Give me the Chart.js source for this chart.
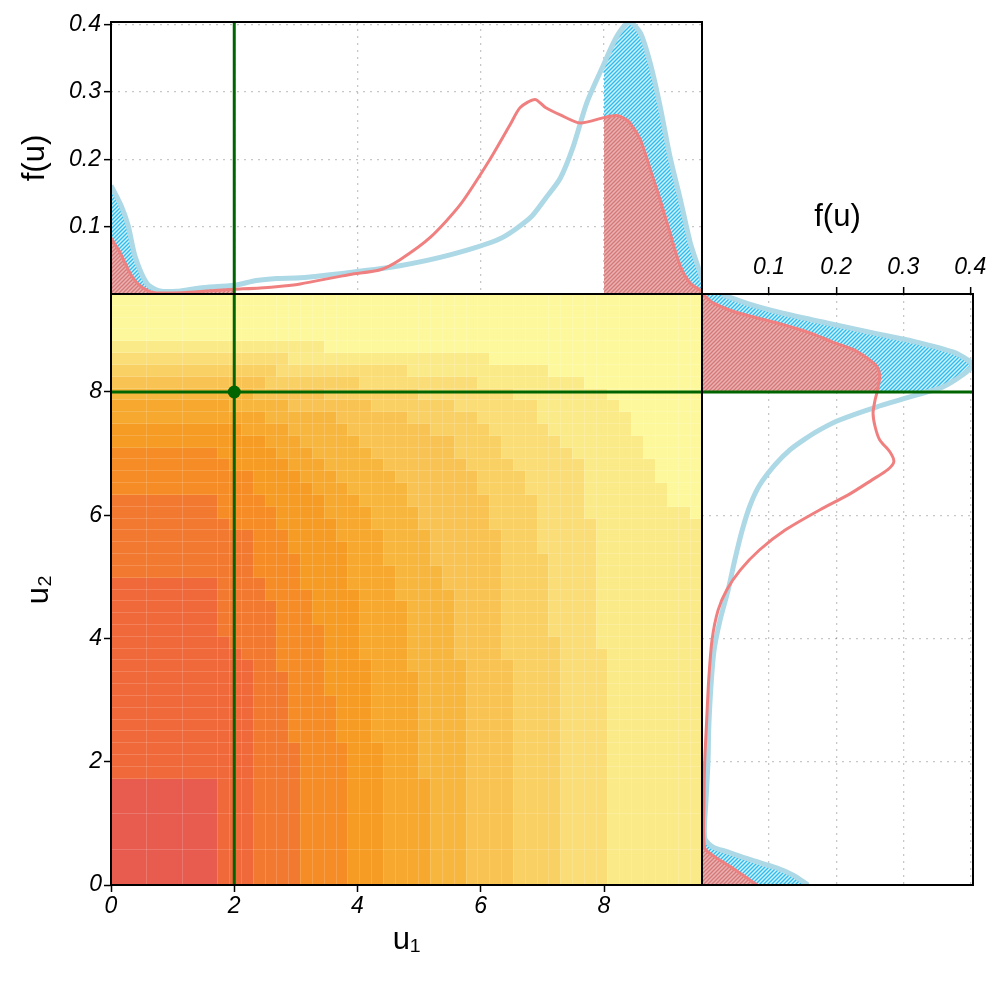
<!DOCTYPE html>
<html><head><meta charset="utf-8">
<script src="https://cdn.jsdelivr.net/npm/chart.js@4"></script>
<style>
html,body{margin:0;padding:0;background:#fff;}
#wrap{position:relative;width:996px;height:996px;}
canvas{position:absolute;left:0;top:0;}
</style></head><body>
<div id="wrap">
<canvas id="cMain" width="996" height="996"></canvas>
<canvas id="cTop" width="996" height="996"></canvas>
<canvas id="cRight" width="996" height="996"></canvas>
</div>
<script>
// ---------------- data ----------------
const axisMax = 9.59;          // u1 / u2 axis range
const densityMax = 0.404;      // f(u) axis range
const mainTicks = [0, 2, 4, 6, 8];
const gridTicksU = [2, 4, 6, 8];
const densityTicks = [0.1, 0.2, 0.3, 0.4];
const lowCut = 2, highCut = 8;       // shaded tails
const markU1 = 2, markU2 = 8;        // green marker

// heatmap: number of grid rows (from bottom) whose level is <= k, per grid column (50 columns)
const top0  = [9,9,9,9,9,9,9,9,9, 0,0,0,0,0,0,0,0,0,0,0,0,0,0,0,0,0,0,0,0,0,0,0,0,0,0,0,0,0,0,0,0,0,0,0,0,0,0,0,0,0];
const top1  = [26,26,26,26,26,26,26,26,26, 21,20,19, 0,0,0,0,0,0,0,0,0,0,0,0,0,0,0,0,0,0,0,0,0,0,0,0,0,0,0,0,0,0,0,0,0,0,0,0,0,0];
const top2  = [33,33,33,33,33,33,33,33,33, 31,30,30,26,24,18,12, 0,0,0,0,0,0,0,0,0,0,0,0,0,0,0,0,0,0,0,0,0,0,0,0,0,0,0,0,0,0,0,0,0,0];
const top3  = [37,37,37,37,37,37,37,37,37, 36,35,35,33,32,30,28,25,22,16,12, 0,0,0,0,0,0,0,0,0,0,0,0,0,0,0,0,0,0,0,0,0,0,0,0,0,0,0,0,0,0];
const top4  = [39,39,39,39,39,39,39,39,39, 39,39,38,38,37,36,35,34,33,31,29,25,19,12, 0,0,0,0,0,0,0,0,0,0,0,0,0,0,0,0,0,0,0,0,0,0,0,0,0,0,0];
const top5  = [41,41,41,41,41,41,41,41,41, 41,40,40,40,39,39,38,37,36,35,34,33,32,30,27,24,18,9, 0,0,0,0,0,0,0,0,0,0,0,0,0,0,0,0,0,0,0,0,0,0,0];
const top6  = [42,42,42,42,42,42,42,42,42,42,42,42, 41,41,41,40,40,40,40,39,38,37,36,35,34,32,30,27,25,19, 0,0,0,0,0,0,0,0,0,0,0,0,0,0,0,0,0,0,0,0];
const top7  = [43,43,43,43,43,43,43,43,43,43,43,43,43, 42,42,42,42,42, 41,41,41,41, 40,40,40, 39,39, 38,38, 36,35,33,30,19, 0,0,0,0,0,0,0,0,0,0,0,0,0,0,0,0];
const top8  = [44,44,44,44,44,44,44,44,44,44,44,44,44,44, 43,43,43,43,43,43,43, 42,42,42,42,42, 41,41,41, 40,40, 39,38,36,35,33,28,21, 0,0,0,0,0,0,0,0,0,0,0,0];
const top9  = [45,45,45,45,45,45,45,45,45,45,45,45,45,45,45, 44,44,44,44,44,44,44,44,44,44, 43,43,43,43,43,43, 42,42,42, 41,41, 39,38,37,36,31,20, 0,0,0,0,0,0,0,0];
const top10 = [46,46,46,46,46,46,46,46,46,46,46,46,46,46,46,46,46,46, 45,45,45,45,45,45,45,45,45,45,45,45,45,45, 44,44,44,44,44, 43,43,43, 42,42, 41,40,38,36,34,32,32,31];
const levelTops = [top0, top1, top2, top3, top4, top5, top6, top7, top8, top9, top10];
const gridCols = 50;
const mergedEdges = [0, 3, 6];   // coarse cells at the low end of both axes

// marginal density of u1 (top panel)
const topBlueU = [0,0.17,0.28,0.39,0.58,0.77,1.07,1.44,2.0,2.36,2.69,3.07,3.88,4.69,5.5,6.31,6.8,7.05,7.29,7.5,7.72,8.0,8.21,8.41,8.59,8.75,8.91,9.07,9.24,9.4,9.56,9.59];
const topBlueF = [0.161,0.130,0.101,0.056,0.016,0.005,0.004,0.009,0.013,0.020,0.023,0.024,0.032,0.042,0.058,0.082,0.113,0.142,0.172,0.219,0.284,0.342,0.383,0.404,0.388,0.343,0.279,0.204,0.140,0.076,0.031,0.02];
const topRedU  = [0,0.15,0.34,0.52,0.71,1.17,1.61,2.0,2.42,2.8,3.07,3.88,4.37,4.69,5.18,5.67,6.15,6.48,6.64,6.88,7.05,7.29,7.61,8.0,8.21,8.4,8.59,8.75,8.91,9.07,9.24,9.4,9.59];
const topRedF  = [0.083,0.061,0.026,0.009,0.002,0.002,0.005,0.007,0.009,0.012,0.015,0.029,0.036,0.051,0.084,0.133,0.2,0.252,0.277,0.289,0.277,0.266,0.254,0.262,0.265,0.256,0.229,0.185,0.14,0.091,0.041,0.016,0.004];

// marginal density of u2 (right panel)
const rightBlueU = [0,0.16,0.28,0.41,0.54,0.62,0.76,1.38,2.0,2.52,3.17,3.81,4.3,4.79,5.28,5.76,6.17,6.49,6.82,7.06,7.22,7.39,7.55,7.76,8.0,8.08,8.25,8.43,8.52,8.65,8.81,8.96,9.12,9.29,9.42,9.58];
const rightBlueF = [0.158,0.136,0.111,0.072,0.037,0.016,0.004,0.006,0.009,0.010,0.013,0.018,0.027,0.039,0.049,0.060,0.072,0.086,0.109,0.131,0.151,0.176,0.206,0.261,0.335,0.359,0.385,0.404,0.396,0.374,0.320,0.255,0.186,0.116,0.072,0.030];
const rightRedU  = [0,0.16,0.30,0.46,0.60,1.38,2.0,2.68,3.33,3.98,4.46,4.79,5.11,5.44,5.76,6.09,6.33,6.57,6.74,6.87,7.03,7.22,7.44,7.66,7.87,8.0,8.25,8.41,8.52,8.69,8.81,8.96,9.12,9.29,9.45,9.58];
const rightRedF  = [0.082,0.061,0.042,0.019,0.004,0.003,0.004,0.007,0.010,0.015,0.024,0.037,0.057,0.086,0.124,0.176,0.218,0.253,0.277,0.286,0.280,0.265,0.258,0.255,0.258,0.261,0.265,0.261,0.250,0.225,0.195,0.161,0.112,0.052,0.016,0.002];

// ---------------- styles ----------------
const levelColors = ['#e85c50','#f0693a','#f27a30','#f58c26','#f69b24','#f6a82f','#f7b63e','#f8c353','#f9d064','#fadd76','#fbea88','#fdf89b'];
const green = '#006400';
const blueLine = '#add8e6', redLine = '#f08080';
const FONT = "'Liberation Sans', Arial, 'DejaVu Sans', sans-serif";
const tickFont = {family: FONT, size: 23, style: 'italic'};
const titleFont = {family: FONT, size: 31};
const dotted = [2, 5];
const dotColor = 'rgba(0,0,0,0.22)';

Chart.defaults.font.family = FONT;
Chart.defaults.color = '#000';

function makeHatch(bg, fg, size, lw) {
  const c = document.createElement('canvas'); c.width = size; c.height = size;
  const g = c.getContext('2d');
  g.fillStyle = bg; g.fillRect(0, 0, size, size);
  g.strokeStyle = fg; g.lineWidth = lw;
  g.beginPath();
  g.moveTo(0, size); g.lineTo(size, 0);
  g.moveTo(-size / 2, size / 2); g.lineTo(size / 2, -size / 2);
  g.moveTo(size / 2, size * 1.5); g.lineTo(size * 1.5, size / 2);
  g.stroke();
  return g.createPattern(c, 'repeat');
}
const blueHatch = makeHatch('#d2f1fb', '#2fbdee', 4, 1.4);
const redHatch = makeHatch('#ebb0b0', '#d47878', 4, 1.3);

const framePlugin = {
  id: 'frame',
  afterDatasetsDraw(chart) {
    const {ctx, chartArea: a} = chart;
    ctx.save(); ctx.strokeStyle = '#000'; ctx.lineWidth = 2;
    ctx.strokeRect(a.left, a.top, a.right - a.left, a.bottom - a.top);
    ctx.restore();
  }
};

const cellStep = axisMax / gridCols;
const cellEdges = mergedEdges.slice();
for (let i = 9; i <= gridCols; i++) cellEdges.push(i);
function levelAt(col, row) {
  for (let k = 0; k < levelTops.length; k++) if (row < levelTops[k][col]) return k;
  return levelTops.length;
}
const heatPlugin = {
  id: 'heat',
  beforeDatasetsDraw(chart) {
    const {ctx, chartArea: a} = chart;
    const xs = chart.scales.x, ys = chart.scales.y;
    const px = cellEdges.map(e => Math.round(xs.getPixelForValue(e * cellStep)));
    const py = cellEdges.map(e => Math.round(ys.getPixelForValue(e * cellStep)));
    ctx.save();
    ctx.beginPath(); ctx.rect(a.left, a.top, a.right - a.left, a.bottom - a.top); ctx.clip();
    for (let ci = 0; ci < cellEdges.length - 1; ci++) {
      for (let ri = 0; ri < cellEdges.length - 1; ri++) {
        const lv = levelAt(cellEdges[ci], cellEdges[ri]);
        ctx.fillStyle = levelColors[lv];
        ctx.fillRect(px[ci], py[ri + 1], px[ci + 1] - px[ci], py[ri] - py[ri + 1]);
      }
    }
    // faint seams between cells
    ctx.strokeStyle = 'rgba(255,255,255,0.16)';
    ctx.lineWidth = 1;
    ctx.beginPath();
    for (let i = 1; i < cellEdges.length - 1; i++) {
      ctx.moveTo(px[i] + 0.5, a.top); ctx.lineTo(px[i] + 0.5, a.bottom);
      ctx.moveTo(a.left, py[i] - 0.5); ctx.lineTo(a.right, py[i] - 0.5);
    }
    ctx.stroke();
    ctx.restore();
  }
};

const setTicks = list => s => { s.ticks = list.map(v => ({value: v})); };
const base = {
  responsive: false, animation: false, events: [],
  plugins: {legend: {display: false}, tooltip: {enabled: false}}
};
const lineDs = (data, color, width, order, extra) => Object.assign({
  data, showLine: true, borderColor: color, borderWidth: width, pointRadius: 0,
  fill: false, tension: 0.25, order
}, extra || {});

// ---------------- main heatmap ----------------
new Chart(document.getElementById('cMain'), {
  type: 'scatter',
  data: {datasets: [
    lineDs([{x: markU1, y: 0}, {x: markU1, y: axisMax}], green, 3, 1, {tension: 0}),
    lineDs([{x: 0, y: markU2}, {x: axisMax, y: markU2}], green, 3, 1, {tension: 0}),
    {data: [{x: markU1, y: markU2}], pointRadius: 6.5, backgroundColor: green, borderWidth: 0, order: 0}
  ]},
  options: Object.assign({}, base, {
    layout: {padding: {left: 17, right: 294, top: 294, bottom: 33}},
    scales: {
      x: {type: 'linear', min: 0, max: axisMax, afterBuildTicks: setTicks(mainTicks), afterFit: s => { s.height = 78; },
        ticks: {font: tickFont, color: '#000', padding: 1, maxRotation: 0, autoSkip: false, callback: v => String(v)},
        grid: {drawOnChartArea: false, drawTicks: true, tickLength: 7, tickColor: '#000', tickWidth: 1.5, tickBorderDash: []},
        border: {display: false},
        title: {display: true, text: 'u\u2081', font: titleFont, color: '#000', padding: {top: 4, bottom: 4}}},
      y: {type: 'linear', min: 0, max: axisMax, afterBuildTicks: setTicks(mainTicks), afterFit: s => { s.width = 94; },
        ticks: {font: tickFont, color: '#000', padding: 2, autoSkip: false, callback: v => String(v)},
        grid: {drawOnChartArea: false, drawTicks: true, tickLength: 7, tickColor: '#000', tickWidth: 1.5, tickBorderDash: []},
        border: {display: false},
        title: {display: true, text: 'u\u2082', font: titleFont, color: '#000', padding: {top: 4, bottom: 4}}}
    }
  }),
  plugins: [heatPlugin, framePlugin]
});

// ---------------- top marginal ----------------
const pts = (us, fs) => us.map((u, i) => ({x: u, y: fs[i]}));
const tBlue = pts(topBlueU, topBlueF), tRed = pts(topRedU, topRedF);
new Chart(document.getElementById('cTop'), {
  type: 'scatter',
  data: {datasets: [
    lineDs(tBlue.filter(p => p.x <= lowCut), 'rgba(0,0,0,0)', 0, 6, {fill: 'origin', backgroundColor: blueHatch}),
    lineDs(tBlue.filter(p => p.x >= highCut), 'rgba(0,0,0,0)', 0, 6, {fill: 'origin', backgroundColor: blueHatch}),
    lineDs(tRed.filter(p => p.x <= lowCut), 'rgba(0,0,0,0)', 0, 5, {fill: 'origin', backgroundColor: redHatch}),
    lineDs(tRed.filter(p => p.x >= highCut), 'rgba(0,0,0,0)', 0, 5, {fill: 'origin', backgroundColor: redHatch}),
    lineDs(tBlue, blueLine, 5, 3),
    lineDs(tRed, redLine, 3, 2),
    lineDs([{x: markU1, y: 0}, {x: markU1, y: densityMax}], green, 3, 1, {tension: 0})
  ]},
  options: Object.assign({}, base, {
    layout: {padding: {left: 13, right: 294, top: 22, bottom: 702}},
    scales: {
      x: {type: 'linear', min: 0, max: axisMax, afterBuildTicks: setTicks(gridTicksU), afterFit: s => { s.height = 0; },
        ticks: {display: false},
        grid: {drawTicks: false, color: dotColor, lineWidth: 1.3},
        border: {display: false, dash: dotted}},
      y: {type: 'linear', min: 0, max: densityMax, afterBuildTicks: setTicks(densityTicks), afterFit: s => { s.width = 98; },
        ticks: {font: tickFont, color: '#000', padding: 3, autoSkip: false, callback: v => String(v)},
        grid: {drawTicks: true, tickLength: 7, tickColor: '#000', tickWidth: 1.5, tickBorderDash: [], color: dotColor, lineWidth: 1.3},
        border: {display: false, dash: dotted},
        title: {display: true, text: 'f(u)', font: titleFont, color: '#000', padding: {top: 4, bottom: 4}}}
    }
  }),
  plugins: [framePlugin]
});

// ---------------- right marginal ----------------
const rpts = (us, fs) => us.map((u, i) => ({x: fs[i], y: u}));
const rBlue = rpts(rightBlueU, rightBlueF), rRed = rpts(rightRedU, rightRedF);
const lowPoly = arr => [{x: 0, y: 0}, ...arr.filter(p => p.y <= lowCut), {x: 0, y: lowCut}];
const highPoly = arr => { const s = arr.filter(p => p.y >= highCut); return [{x: 0, y: highCut}, ...s, {x: 0, y: s[s.length - 1].y}]; };
new Chart(document.getElementById('cRight'), {
  type: 'scatter',
  data: {datasets: [
    lineDs(lowPoly(rBlue), 'rgba(0,0,0,0)', 0, 6, {fill: 'shape', backgroundColor: blueHatch, tension: 0}),
    lineDs(highPoly(rBlue), 'rgba(0,0,0,0)', 0, 6, {fill: 'shape', backgroundColor: blueHatch, tension: 0}),
    lineDs(lowPoly(rRed), 'rgba(0,0,0,0)', 0, 5, {fill: 'shape', backgroundColor: redHatch, tension: 0}),
    lineDs(highPoly(rRed), 'rgba(0,0,0,0)', 0, 5, {fill: 'shape', backgroundColor: redHatch, tension: 0}),
    lineDs(rBlue, blueLine, 5, 3),
    lineDs(rRed, redLine, 3, 2),
    lineDs([{x: 0, y: markU2}, {x: densityMax, y: markU2}], green, 3, 1, {tension: 0})
  ]},
  options: Object.assign({}, base, {
    layout: {padding: {left: 702, right: 23, top: 195, bottom: 111}},
    scales: {
      x: {type: 'linear', position: 'top', min: 0, max: densityMax, afterBuildTicks: setTicks(densityTicks), afterFit: s => { s.height = 99; },
        ticks: {font: tickFont, color: '#000', padding: 6, maxRotation: 0, autoSkip: false, callback: v => String(v)},
        grid: {drawTicks: true, tickLength: 7, tickColor: '#000', tickWidth: 1.5, tickBorderDash: [], color: dotColor, lineWidth: 1.3},
        border: {display: false, dash: dotted},
        title: {display: true, text: 'f(u)', font: titleFont, color: '#000', padding: {top: 4, bottom: 4}}},
      y: {type: 'linear', min: 0, max: axisMax, afterBuildTicks: setTicks(gridTicksU), afterFit: s => { s.width = 0; },
        ticks: {display: false},
        grid: {drawTicks: false, color: dotColor, lineWidth: 1.3},
        border: {display: false, dash: dotted}}
    }
  }),
  plugins: [framePlugin]
});
</script>
</body></html>
